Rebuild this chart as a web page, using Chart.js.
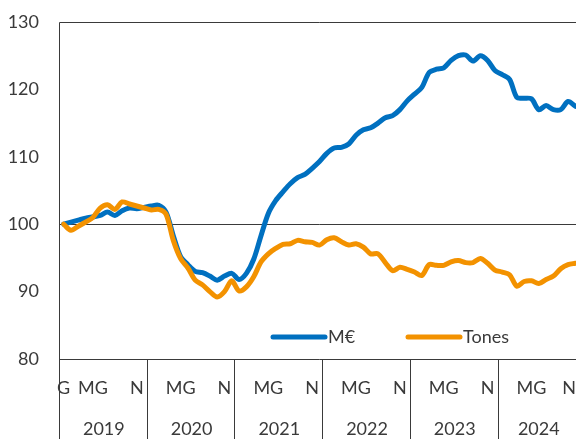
<!DOCTYPE html>
<html>
<head>
<meta charset="utf-8">
<script src="https://cdn.jsdelivr.net/npm/chart.js@4.4.1/dist/chart.umd.min.js"></script>
<style>
  html, body { margin: 0; padding: 0; background: #fff; overflow: hidden; width: 576px; height: 439px; }
  #wrap { position: absolute; left: 0; top: 0; width: 580px; height: 439px; }
</style>
</head>
<body>
<div id="wrap"><canvas id="c" width="580" height="439"></canvas></div>
<script>
// ---- Data (Jan 2019 – Nov 2024, index base 100) ----
const years = ['2019', '2020', '2021', '2022', '2023', '2024'];
const monthCodes = ['G', 'F', 'MÇ', 'AB', 'MG', 'JN', 'JL', 'AG', 'S', 'O', 'N', 'D'];

const serieEuros = [
  100.0, 100.3, 100.6, 100.9, 101.1, 101.3, 101.8, 101.3, 102.0, 102.4, 102.3, 102.5,
  102.7, 102.8, 101.8, 98.3, 95.2, 94.0, 93.0, 92.8, 92.3, 91.7, 92.3, 92.7,
  91.8, 92.7, 94.8, 98.3, 101.6, 103.5, 104.8, 106.0, 106.9, 107.4, 108.3, 109.3,
  110.5, 111.3, 111.4, 111.9, 113.2, 114.0, 114.3, 115.0, 115.8, 116.1, 117.0, 118.3,
  119.3, 120.3, 122.5, 123.0, 123.2, 124.3, 125.0, 125.1, 124.2, 125.0, 124.3, 122.8,
  122.2, 121.5, 118.8, 118.7, 118.6, 117.0, 117.6, 117.0, 117.0, 118.2, 117.5
];
const serieTones = [
  100.0, 99.1, 99.7, 100.3, 101.0, 102.4, 102.9, 102.2, 103.3, 103.0, 102.7, 102.4,
  102.1, 102.2, 101.5, 97.6, 94.9, 93.5, 91.7, 91.0, 90.0, 89.2, 90.0, 91.6,
  90.1, 90.7, 92.2, 94.4, 95.6, 96.4, 97.0, 97.1, 97.6, 97.4, 97.3, 96.9,
  97.7, 98.0, 97.4, 96.9, 97.1, 96.6, 95.6, 95.6, 94.3, 93.1, 93.6, 93.3,
  92.9, 92.4, 94.0, 93.9, 93.9, 94.4, 94.6, 94.3, 94.3, 94.9, 94.2, 93.2,
  92.9, 92.5, 90.8, 91.5, 91.6, 91.2, 91.8, 92.3, 93.4, 94.0, 94.2
];
const seriesNames = ['M€', 'Tones'];
const yTicks = [80, 90, 100, 110, 120, 130];
const refValue = 100;

// categories and the month tick labels shown on the axis
const categories = [];
const monthTicks = [];
for (let i = 0; i < serieEuros.length; i++) {
  const yi = Math.floor(i / 12), m = i % 12;
  categories.push(monthCodes[m] + ' ' + years[yi]);
  let lbl = '';
  if (m === 4) lbl = 'MG';
  else if (m === 10) lbl = 'N';
  else if (m === 0 && yi === 0) lbl = 'G';
  monthTicks.push(lbl);
}

const TEXT = '#3a3a3a';
const LINE = '#3a3a3a';
const FONT = '18px Lato, "Open Sans", sans-serif';

const framePlugin = {
  id: 'frame',
  beforeDatasetsDraw(chart) {
    const { ctx, chartArea: a, scales: { x, y } } = chart;
    ctx.save();
    ctx.strokeStyle = LINE;
    ctx.lineWidth = 1;
    ctx.beginPath();
    const top = Math.round(a.top) + 0.5;
    const bot = Math.round(a.bottom) + 0.5;
    const left = Math.round(a.left) - 0.5;
    ctx.moveTo(left, top); ctx.lineTo(a.right, top);
    ctx.moveTo(left, bot); ctx.lineTo(a.right, bot);
    ctx.moveTo(left, top); ctx.lineTo(left, chart.height);
    ctx.moveTo(a.right - 0.5, top); ctx.lineTo(a.right - 0.5, bot);
    const yr = Math.round(y.getPixelForValue(refValue)) + 0.5;
    ctx.moveTo(left, yr); ctx.lineTo(a.right, yr);
    const step = x.getPixelForValue(1) - x.getPixelForValue(0);
    for (let k = 1; k < years.length; k++) {
      const xb = Math.round(x.getPixelForValue(k * 12) - step / 2) - 0.5;
      ctx.moveTo(xb, bot); ctx.lineTo(xb, chart.height);
    }
    ctx.stroke();
    ctx.restore();
  },
  afterDraw(chart) {
    const { ctx, chartArea: a, scales: { x } } = chart;
    ctx.save();
    ctx.font = FONT;
    ctx.fillStyle = TEXT;
    ctx.textBaseline = 'middle';
    ctx.textAlign = 'center';
    const step = x.getPixelForValue(1) - x.getPixelForValue(0);
    const visibleRight = 576;
    monthTicks.forEach((lbl, i) => {
      if (!lbl) return;
      let px = x.getPixelForValue(i);
      const w = ctx.measureText(lbl).width;
      if (px + w / 2 > visibleRight) px = visibleRight - w / 2;
      ctx.fillText(lbl, px, a.bottom + 29);
    });
    years.forEach((yl, k) => {
      const x0 = x.getPixelForValue(k * 12) - step / 2;
      const lastIdx = Math.min(k * 12 + 11, categories.length - 1);
      const x1 = x.getPixelForValue(lastIdx) + step / 2;
      ctx.fillText(yl, (x0 + x1) / 2, a.bottom + 70);
    });
    // legend inside plot
    const ly = a.bottom - 22;
    const legendX = [273, 408];
    chart.data.datasets.forEach((ds, i) => {
      const lx = legendX[i];
      ctx.strokeStyle = ds.borderColor;
      ctx.lineWidth = 5;
      ctx.lineCap = 'round';
      ctx.beginPath();
      ctx.moveTo(lx, ly); ctx.lineTo(lx + 52, ly);
      ctx.stroke();
      ctx.textAlign = 'left';
      ctx.fillText(ds.label, lx + 55, ly);
    });
    ctx.restore();
  }
};

function draw() {
  new Chart(document.getElementById('c'), {
    type: 'line',
    data: {
      labels: categories,
      datasets: [
        { label: seriesNames[0], data: serieEuros, borderColor: '#0070C0', order: 1 },
        { label: seriesNames[1], data: serieTones, borderColor: '#F39200', order: 0 }
      ]
    },
    options: {
      responsive: false,
      animation: false,
      devicePixelRatio: 1,
      layout: { padding: { top: 22, bottom: 80, right: 1, left: 0 } },
      elements: {
        point: { radius: 0 },
        line: { borderWidth: 5, tension: 0.3, borderCapStyle: 'round', borderJoinStyle: 'round', fill: false }
      },
      plugins: { legend: { display: false }, tooltip: { enabled: false } },
      scales: {
        x: { type: 'category', offset: true, display: false },
        y: {
          min: yTicks[0], max: yTicks[yTicks.length - 1],
          afterBuildTicks: (s) => { s.ticks = yTicks.map(v => ({ value: v })); },
          afterFit: (s) => { s.width = 60; s.paddingTop = 0; s.paddingBottom = 0; },
          grid: { display: false, drawTicks: false },
          border: { display: false },
          ticks: { padding: 21, color: TEXT, font: { family: 'Lato', size: 18 } }
        }
      }
    },
    plugins: [framePlugin]
  });
}
if (document.fonts && document.fonts.load) {
  document.fonts.load(FONT).then(draw, draw);
} else { draw(); }
</script>
</body>
</html>
